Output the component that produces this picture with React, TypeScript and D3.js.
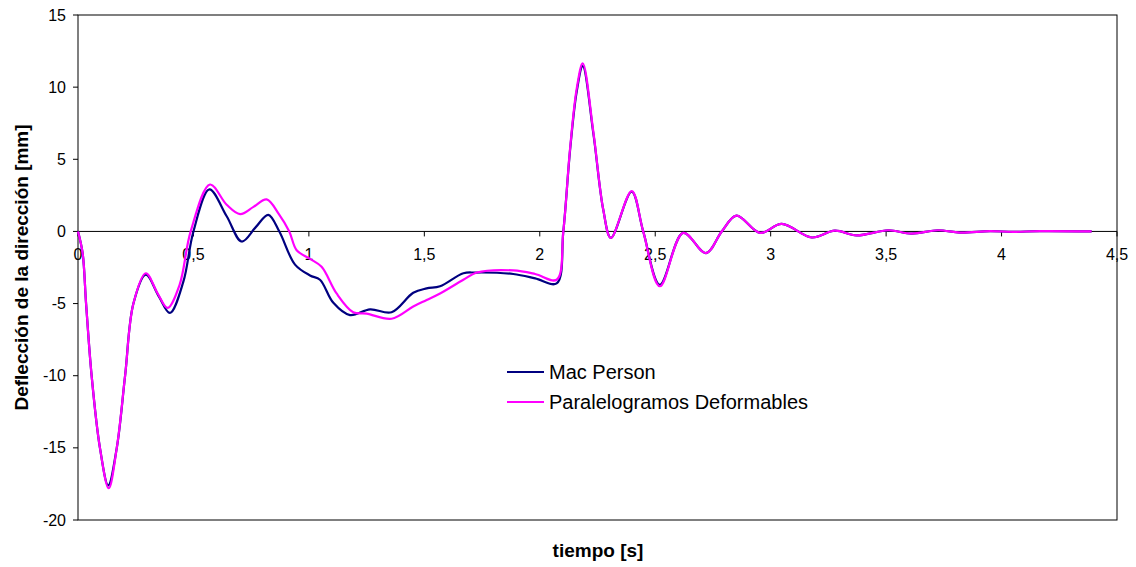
import React from "react";
import * as d3 from "d3";

// time [s], deflection [mm]
const macPerson: [number, number][] = [
  [0, 0], [0.02, -1.5], [0.035, -5], [0.059, -10], [0.095, -15], [0.131, -17.6],
  [0.168, -15], [0.204, -10], [0.24, -5], [0.294, -3.0], [0.35, -4.5], [0.398, -5.65],
  [0.456, -3.5], [0.5, 0], [0.569, 2.92], [0.644, 1.05], [0.709, -0.7], [0.77, 0.3],
  [0.824, 1.15], [0.872, 0], [0.94, -2.3], [1.005, -3.05], [1.048, -3.35], [1.106, -4.95],
  [1.178, -5.8], [1.265, -5.4], [1.358, -5.6], [1.452, -4.25], [1.51, -3.95], [1.568, -3.8],
  [1.669, -2.9], [1.72, -2.85], [1.885, -2.95], [1.98, -3.25], [2.073, -3.6], [2.102, 0],
  [2.131, 5.6], [2.16, 9.7], [2.186, 11.45], [2.232, 6.8], [2.275, 1.5], [2.308, -0.45],
  [2.398, 2.75], [2.448, 0], [2.52, -3.7], [2.621, -0.1], [2.72, -1.5], [2.788, 0],
  [2.852, 1.1], [2.954, -0.1], [3.048, 0.52], [3.178, -0.42], [3.278, 0.05], [3.372, -0.27],
  [3.51, 0.08], [3.61, -0.15], [3.725, 0.08], [3.82, -0.08], [3.95, 0.02], [4.05, -0.03],
  [4.166, 0.02], [4.39, 0],
];

const paralelogramos: [number, number][] = [
  [0, 0], [0.02, -1.5], [0.035, -5], [0.059, -10], [0.095, -15], [0.133, -17.8],
  [0.168, -15], [0.204, -10], [0.24, -5], [0.294, -2.9], [0.345, -4.3], [0.388, -5.3],
  [0.44, -3.7], [0.488, 0], [0.572, 3.25], [0.644, 1.85], [0.702, 1.2], [0.76, 1.7],
  [0.817, 2.22], [0.87, 1.2], [0.915, 0], [0.947, -1.3], [1.005, -1.9], [1.055, -2.45],
  [1.12, -4.3], [1.192, -5.6], [1.25, -5.7], [1.358, -6.05], [1.452, -5.2], [1.51, -4.75],
  [1.568, -4.3], [1.669, -3.35], [1.727, -2.85], [1.885, -2.7], [1.98, -2.95], [2.073, -3.35],
  [2.102, 0], [2.131, 5.7], [2.16, 9.9], [2.186, 11.65], [2.232, 6.9], [2.275, 1.5],
  [2.308, -0.45], [2.398, 2.8], [2.448, 0], [2.52, -3.8], [2.621, -0.1], [2.72, -1.5],
  [2.788, 0], [2.852, 1.1], [2.954, -0.1], [3.048, 0.52], [3.178, -0.42], [3.278, 0.05],
  [3.372, -0.27], [3.51, 0.08], [3.61, -0.15], [3.725, 0.08], [3.82, -0.08], [3.95, 0.02],
  [4.05, -0.03], [4.166, 0.02], [4.39, 0],
];

const xTicks = [0, 0.5, 1, 1.5, 2, 2.5, 3, 3.5, 4, 4.5];
const yTicks = [-20, -15, -10, -5, 0, 5, 10, 15];
const seriesNames = ["Mac Person", "Paralelogramos Deformables"];
const seriesColors = ["#000080", "#ff00ff"];

const W = 1136;
const H = 567;
const left = 78;
const right = 1117;
const top = 15;
const bottom = 520;

const fmt = (v: number) => String(v).replace(".", ",");

export default function App() {
  const x = d3.scaleLinear().domain([0, 4.5]).range([left, right]);
  const y = d3.scaleLinear().domain([-20, 15]).range([bottom, top]);
  const line = d3
    .line<[number, number]>()
    .x((d) => x(d[0]))
    .y((d) => y(d[1]))
    .curve(d3.curveCatmullRom.alpha(0.5));
  const y0 = y(0);
  const font = "'Liberation Sans', Arial, sans-serif";

  return (
    <svg
      width={W}
      height={H}
      style={{ position: "absolute", left: 0, top: 0, background: "#fff" }}
      fontFamily={font}
    >
      <rect x={left} y={top} width={right - left} height={bottom - top} fill="none" stroke="#000" strokeWidth={1} />

      {/* y ticks */}
      {yTicks.map((t) => (
        <g key={"y" + t}>
          <line x1={left - 5} x2={left} y1={y(t)} y2={y(t)} stroke="#000" />
          <text x={left - 12} y={y(t)} dy="0.35em" textAnchor="end" fontSize={16}>
            {fmt(t)}
          </text>
        </g>
      ))}

      {/* x axis on zero line */}
      <line x1={left} x2={right} y1={y0} y2={y0} stroke="#000" />
      {xTicks.map((t) => (
        <g key={"x" + t}>
          <line x1={x(t)} x2={x(t)} y1={y0} y2={y0 + 5} stroke="#000" />
          <text x={x(t)} y={y0 + 29} textAnchor="middle" fontSize={16}>
            {fmt(t)}
          </text>
        </g>
      ))}

      {[macPerson, paralelogramos].map((s, i) => (
        <path key={i} d={line(s) || ""} fill="none" stroke={seriesColors[i]} strokeWidth={2.2} />
      ))}

      {/* legend */}
      {seriesNames.map((n, i) => (
        <g key={n} transform={`translate(507, ${372 + i * 30})`}>
          <line x1={0} x2={37} y1={0} y2={0} stroke={seriesColors[i]} strokeWidth={2} />
          <text x={42} y={0} dy="0.35em" fontSize={20}>
            {n}
          </text>
        </g>
      ))}

      <text x={598} y={557} textAnchor="middle" fontSize={19} fontWeight="bold">
        tiempo [s]
      </text>
      <text
        transform={`translate(28, ${(top + bottom) / 2}) rotate(-90)`}
        textAnchor="middle"
        fontSize={19}
        fontWeight="bold"
      >
        Deflección de la dirección [mm]
      </text>
    </svg>
  );
}
